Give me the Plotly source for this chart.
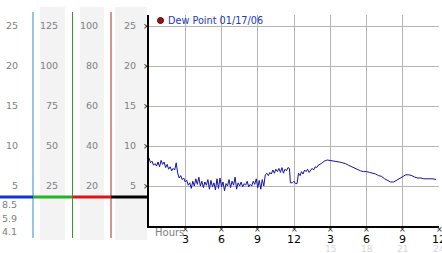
import numpy as np
import plotly.graph_objects as go

# ---------------- data ----------------
hours_a = np.arange(0, 11.626, 0.125)
dew_a = [8.5, 7.9, 8.1, 7.6, 7.8, 7.5, 8.0, 7.4, 8.2, 7.7,
         8.0, 7.3, 7.7, 7.1, 7.4, 6.9, 7.2, 7.0, 7.9, 6.6,
         6.0, 6.3, 5.8, 6.0, 5.5, 5.7, 5.1, 5.4, 4.7, 5.6,
         5.0, 5.9, 5.2, 6.1, 5.0, 5.6, 4.8, 5.5, 5.1, 5.8,
         4.6, 5.7, 4.9, 5.4, 4.5, 5.9, 4.7, 6.0, 4.9, 5.5,
         4.4, 5.3, 5.0, 5.8, 4.8, 5.6, 5.1, 6.1, 4.6, 5.4,
         5.0, 5.5, 4.9, 5.3, 5.1, 5.6, 4.9, 5.2, 5.0, 5.6,
         5.2, 5.9, 4.8, 5.7, 4.6, 5.8, 5.0, 6.4, 6.6, 6.3,
         6.7, 6.5, 7.0, 6.6, 7.1, 6.8, 7.2, 6.7, 7.3, 6.6,
         7.1, 6.9, 7.3, 7.2]
hours_b = [11.7, 11.875, 12.0, 12.125, 12.25, 12.375, 12.5, 12.625, 12.75, 12.875,
           13.0, 13.125, 13.25, 13.375, 13.5, 13.625, 13.75, 13.875, 14.0, 14.25,
           14.5, 14.75, 15.0, 15.25, 15.5, 15.75, 16.0, 16.25, 16.5, 16.75,
           17.0, 17.25, 17.5, 17.75, 18.0, 18.25, 18.5, 18.75, 19.0, 19.25,
           19.5, 19.75, 20.0, 20.25, 20.5, 20.75, 21.0, 21.25, 21.5, 21.75,
           22.0, 22.25, 22.5, 22.75, 23.0, 23.25, 23.5, 23.75]
dew_b = [5.4, 5.4, 5.6, 5.3, 5.3, 6.6, 6.3, 6.8, 6.5, 7.0,
         6.8, 7.1, 6.7, 6.9, 7.2, 7.0, 7.4, 7.3, 7.6, 7.8,
         8.1, 8.25, 8.2, 8.1, 8.1, 8.0, 7.9, 7.8, 7.6, 7.4,
         7.2, 7.0, 6.9, 6.8, 6.8, 6.7, 6.6, 6.5, 6.3, 6.2,
         5.9, 5.7, 5.5, 5.5, 5.7, 6.0, 6.2, 6.4, 6.4, 6.3,
         6.1, 6.0, 6.0, 5.9, 5.9, 5.9, 5.9, 5.8]
hours = list(hours_a) + hours_b
dew = dew_a + dew_b

y_grid = [5, 10, 15, 20, 25]
x_ticks = [3, 6, 9, 12, 15, 18, 21, 24]
x_labels = ["3", "6", "9", "12", "3", "6", "9", "12"]
x_labels2 = ["", "", "", "", "15", "18", "21", "24"]
col1_labels = ["5", "10", "15", "20", "25"]
col2_labels = ["25", "50", "75", "100", "125"]
col3_labels = ["20", "40", "60", "80", "100"]
col4_labels = ["5", "10", "15", "20", "25"]
stat_labels = ["8.5", "5.9", "4.1"]
legend_text = "Dew Point 01/17/06"

# ---------------- layout helpers ----------------
W, H = 442, 253
L, R, T, B = 149, 3, 15, 27
PW, PH = W - L - R, H - T - B


def px(x):
    return (x - L) / PW


def py(y):
    return (H - B - y) / PH


FONT = "DejaVu Sans"
fig = go.Figure()

fig.add_trace(go.Scatter(x=hours, y=dew, mode="lines",
                         line=dict(color="#1414a0", width=1), hoverinfo="skip"))

shapes = []
# gray bands in the left panel
for x0, x1 in [(40, 65), (80, 104), (115, 147)]:
    shapes.append(dict(type="rect", xref="paper", yref="paper", x0=px(x0), x1=px(x1),
                       y0=py(240), y1=py(7), fillcolor="#f3f3f3", line=dict(width=0), layer="below"))
# vertical coloured lines
for x, c in [(33, "#2a8cc4"), (72.5, "#2c9a2c"), (111, "#b02828")]:
    shapes.append(dict(type="line", xref="paper", yref="paper", x0=px(x), x1=px(x),
                       y0=py(238), y1=py(12), line=dict(color=c, width=1)))
# horizontal thick coloured segments
for x0, x1, c in [(0, 33, "#1034d8"), (33, 72.5, "#22b422"), (72.5, 111, "#e01414"), (111, 149, "#000000")]:
    shapes.append(dict(type="line", xref="paper", yref="paper", x0=px(x0), x1=px(x1),
                       y0=py(197), y1=py(197), line=dict(color=c, width=3)))
# legend marker
shapes.append(dict(type="circle", xref="paper", yref="paper", xsizemode="pixel", ysizemode="pixel",
                   xanchor=px(160.5), yanchor=py(20.5), x0=-3, x1=3, y0=-3, y1=3,
                   fillcolor="#9a1010", line=dict(color="#500000", width=1)))

ann = []
gray = "#808080"
tick_font = dict(family=FONT, size=8, color="#222")
# small tick glyphs
for v in y_grid:
    ann.append(dict(x=px(146.8), y=v, xref="paper", yref="y", text="×", showarrow=False,
                    xanchor="center", yanchor="middle", font=tick_font))
for xv in x_ticks:
    ann.append(dict(x=xv, y=py(229.5), xref="x", yref="paper", text="×", showarrow=False,
                    xanchor="center", yanchor="middle", font=tick_font))
for labels, xr in [(col1_labels, 20), (col2_labels, 60), (col3_labels, 100), (col4_labels, 138)]:
    for v, t in zip(y_grid, labels):
        ann.append(dict(x=px(xr), y=v, xref="paper", yref="y", text=t, showarrow=False,
                        xanchor="right", yanchor="middle", yshift=1,
                        font=dict(family=FONT, size=9.5, color=gray)))
for t, yy in zip(stat_labels, [204, 218.5, 231.5]):
    ann.append(dict(x=px(18.5), y=py(yy), xref="paper", yref="paper", text=t, showarrow=False,
                    xanchor="right", yanchor="middle", font=dict(family=FONT, size=9.5, color=gray)))
for xv, t in zip(x_ticks, x_labels):
    ann.append(dict(x=xv, y=py(239.5), xref="x", yref="paper", text=t, showarrow=False,
                    xanchor="center", yanchor="middle", font=dict(family=FONT, size=11, color="#000")))
for xv, t in zip(x_ticks, x_labels2):
    if t:
        ann.append(dict(x=xv, y=py(249), xref="x", yref="paper", text=t, showarrow=False,
                        xanchor="center", yanchor="middle", font=dict(family=FONT, size=9, color="#d6d6d6")))
ann.append(dict(x=px(153), y=py(232), xref="paper", yref="paper", text="Hours", showarrow=False,
                xanchor="left", yanchor="middle", font=dict(family=FONT, size=10, color=gray)))
ann.append(dict(x=px(165.5), y=py(20.5), xref="paper", yref="paper", text=legend_text, showarrow=False,
                xanchor="left", yanchor="middle", font=dict(family=FONT, size=9.7, color="#2038c0")))

fig.update_layout(
    width=W, height=H, margin=dict(l=L, r=R, t=T, b=B, pad=0),
    paper_bgcolor="white", plot_bgcolor="white", showlegend=False,
    shapes=shapes, annotations=ann,
    xaxis=dict(range=[0, 24], tickvals=x_ticks, showticklabels=False, ticks="",
               showgrid=True, gridcolor="#b4b4b4", gridwidth=1, zeroline=False,
               showline=True, linecolor="black", linewidth=2, fixedrange=True),
    yaxis=dict(range=[0, 26.375], tickvals=y_grid, showticklabels=False, ticks="",
               showgrid=True, gridcolor="#b4b4b4", gridwidth=1, zeroline=False,
               showline=True, linecolor="black", linewidth=2, fixedrange=True),
)
fig.write_html("out.html")
